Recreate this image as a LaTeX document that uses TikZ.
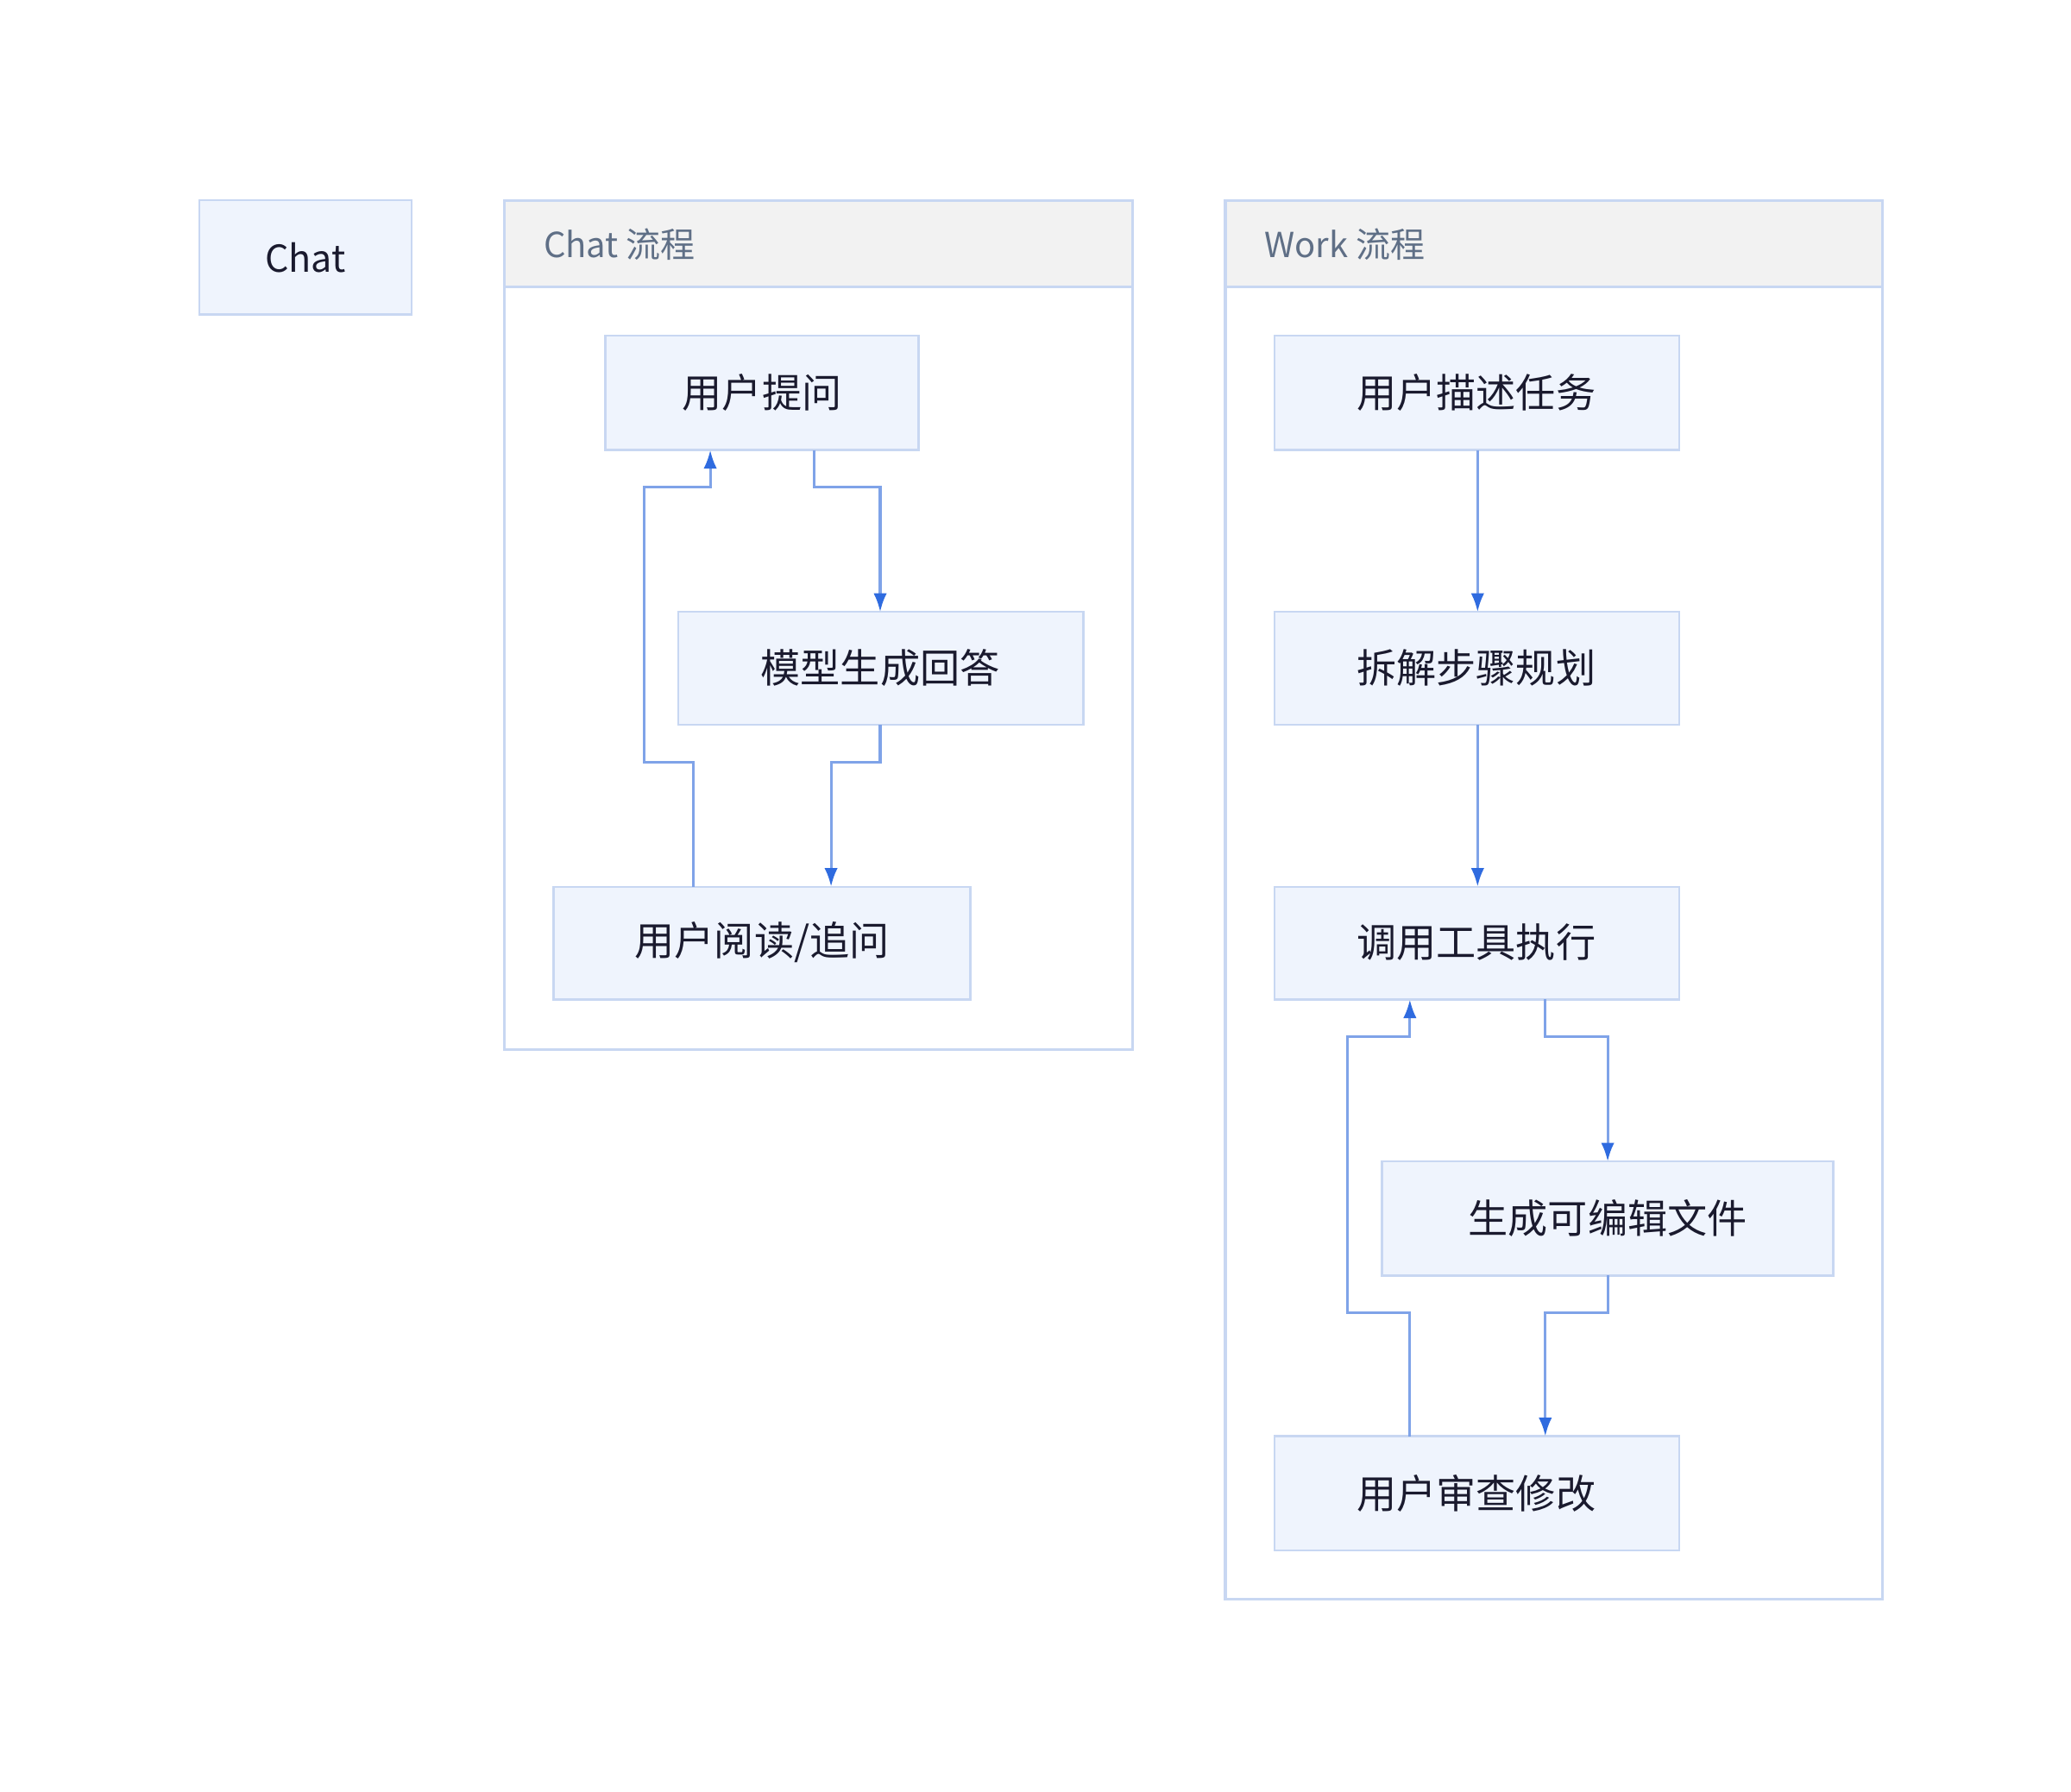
\documentclass[tikz,border=0pt]{standalone}
\usepackage{fontspec}
\setmainfont{Noto Sans CJK SC}
\usetikzlibrary{arrows.meta}
\definecolor{nfill}{HTML}{EFF4FD}
\definecolor{nbord}{HTML}{C8D7F2}
\definecolor{linec}{HTML}{7FA3E8}
\definecolor{arrc}{HTML}{2F6BDF}
\definecolor{hfill}{HTML}{F2F2F2}
\definecolor{htext}{HTML}{5F6F86}
\definecolor{ntext}{HTML}{1A1A2E}
\begin{document}
\begin{tikzpicture}[x=1pt,y=-1pt,
  box/.style={draw=nbord,fill=nfill,line width=1.5pt},
  lbl/.style={font=\fontsize{30}{34}\selectfont,text=ntext},
  grp/.style={draw=nbord,line width=2pt},
  con/.style={draw=linec,line width=2pt,-{Latex[length=14pt,width=10pt,color=arrc,fill=arrc]}}]
\useasboundingbox (0,0) rectangle (1560,1350);
% groups
\draw[grp,fill=white] (380,151) rectangle (853,791);
\draw[grp,fill=hfill] (380,151) rectangle (853,216);
\node[anchor=west,text=htext,font=\fontsize{26}{30}\selectfont] (gc) at (406,184) {Chat 流程};
\draw[grp,fill=white] (923,151) rectangle (1418,1205);
\draw[grp,fill=hfill] (923,151) rectangle (1418,216);
\node[anchor=west,text=htext,font=\fontsize{26}{30}\selectfont] (gw) at (949,184) {Work 流程};
% nodes
\draw[box] (150,151) rectangle (310,237);
\node[lbl,font=\fontsize{28}{32}\selectfont] (chat) at (230,194) {Chat};
\draw[box] (456,253) rectangle (692,339); \node[lbl] (a) at (574,296) {用户提问};
\draw[box] (511,461) rectangle (816,546); \node[lbl] (b) at (663,503) {模型生成回答};
\draw[box] (417,668) rectangle (731,753); \node[lbl] (c) at (574,710) {用户阅读/追问};
\draw[box] (960,253) rectangle (1265,339); \node[lbl] (w1) at (1112,296) {用户描述任务};
\draw[box] (960,461) rectangle (1265,546); \node[lbl] (w2) at (1112,503) {拆解步骤规划};
\draw[box] (960,668) rectangle (1265,753); \node[lbl] (w3) at (1112,710) {调用工具执行};
\draw[box] (1041,875) rectangle (1381,961); \node[lbl] (w4) at (1211,918) {生成可编辑文件};
\draw[box] (960,1082) rectangle (1265,1168); \node[lbl] (w5) at (1112,1125) {用户审查修改};
% connectors
\coordinate (a1) at (613,339); \coordinate (b0) at (663,461);
\draw[con] (a1) |- (638,367) -| (b0);
\coordinate (b1) at (663,546); \coordinate (c0) at (626,668);
\draw[con] (b1) |- (640,574) -| (c0);
\coordinate (c1) at (522,668); \coordinate (a0) at (535,339);
\draw[con] (c1) |- (485,574) |- (510,367) -| (a0);
\coordinate (w1b) at (1113,339); \coordinate (w2t) at (1113,461);
\draw[con] (w1b) -- (w2t);
\coordinate (w2b) at (1113,546); \coordinate (w3t) at (1113,668);
\draw[con] (w2b) -- (w3t);
\coordinate (w3b) at (1164,753); \coordinate (w4t) at (1211,875);
\draw[con] (w3b) |- (1190,781) -| (w4t);
\coordinate (w4b) at (1211,961); \coordinate (w5t) at (1164,1082);
\draw[con] (w4b) |- (1190,989) -| (w5t);
\coordinate (w5a) at (1062,1082); \coordinate (w3a) at (1062,753);
\draw[con] (w5a) |- (1015,989) |- (1040,781) -| (w3a);
\end{tikzpicture}
\end{document}
